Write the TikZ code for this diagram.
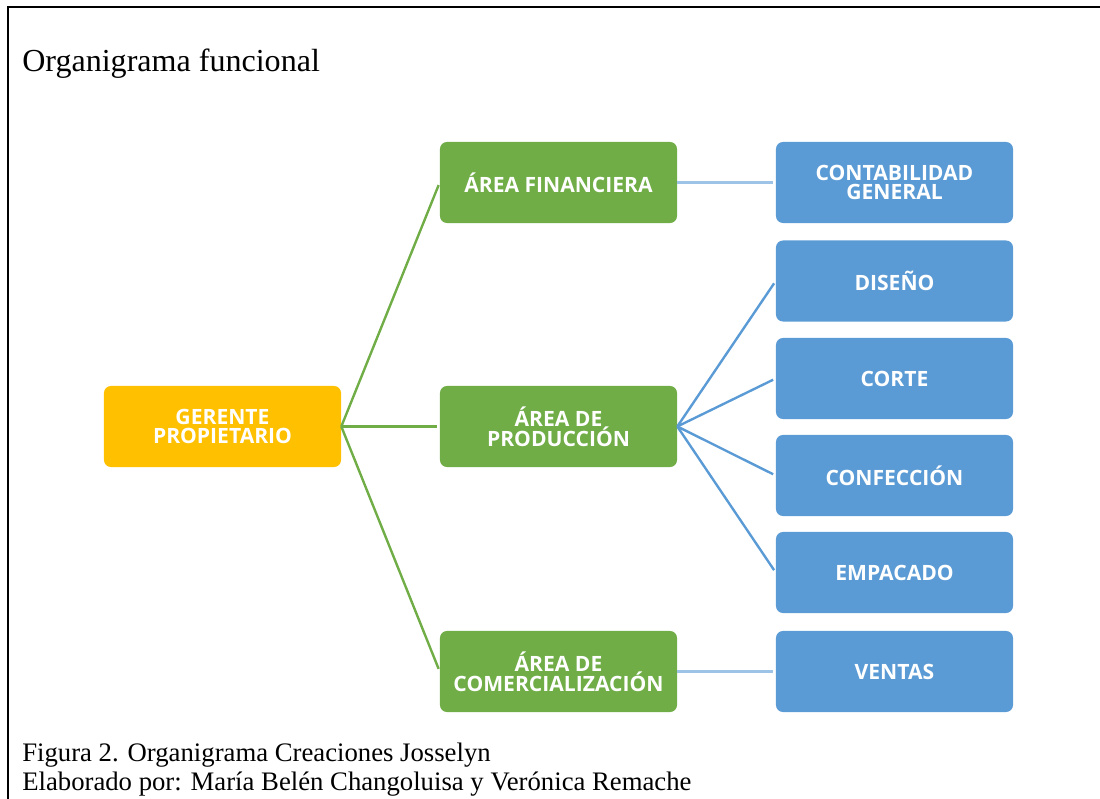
\documentclass[tikz,border=0pt]{standalone}
\usepackage{fontspec}
\setmainfont{Liberation Serif}
\newfontfamily\boxfont{Open Sans}
\usepackage{tikz}

\definecolor{oro}{HTML}{FFC000}
\definecolor{verde}{HTML}{70AD47}
\definecolor{azul}{HTML}{5B9BD5}
\definecolor{azulclaro}{HTML}{9DC3E6}

\tikzset{
  caja/.style={rounded corners=5pt,minimum width=5.925cm,minimum height=2.025cm,
    align=center,text=white,font=\boxfont\bfseries\fontsize{15}{14}\selectfont,inner sep=0pt},
  gerbox/.style={caja,fill=oro},
  areabox/.style={caja,fill=verde},
  subbox/.style={caja,fill=azul},
  lin/.style={line width=1.7pt,shorten >=2pt},
  texto/.style={anchor=base west,inner sep=0pt}
}

\begin{document}
\begin{tikzpicture}
  [x=0.025cm,y=-0.025cm]
  \useasboundingbox (0,0) rectangle (1100,799);
  \draw[line width=1.4pt] (8,799) -- (8,7) -- (1100,7);

  \node[texto,font=\fontsize{22.8}{26}\selectfont] (tit) at (22,72) {Organigrama funcional};

  \node[gerbox]  (n1) at (222.5,426.5) {GERENTE\\PROPIETARIO};
  \node[areabox] (n2) at (558.5,182.5) {ÁREA FINANCIERA};
  \node[areabox] (n3) at (558.5,426.5) {ÁREA DE\\PRODUCCIÓN};
  \node[areabox] (n4) at (558.5,671.5) {ÁREA DE\\COMERCIALIZACIÓN};
  \node[subbox]  (n5) at (894.5,182.5) {CONTABILIDAD\\GENERAL};
  \node[subbox]  (n6) at (894.5,281) {DISEÑO};
  \node[subbox]  (n7) at (894.5,378.5) {CORTE};
  \node[subbox]  (n8) at (894.5,475.5) {CONFECCIÓN};
  \node[subbox]  (n9) at (894.5,572.5) {EMPACADO};
  \node[subbox]  (n10) at (894.5,671.5) {VENTAS};

  \foreach \to in {n2,n3,n4}
    \draw[lin,verde] (n1.east) -- (\to.west);
  \foreach \to in {n6,n7,n8,n9}
    \draw[lin,azul] (n3.east) -- (\to.west);
  \foreach \from/\to in {n2/n5,n4/n10}
    \draw[lin,azulclaro] (\from.east) -- (\to.west);

  \node[texto,font=\fontsize{19}{25}\selectfont] (pie1) at (22,762) {Figura 2. Organigrama Creaciones Josselyn};
  \node[texto,font=\fontsize{19}{25}\selectfont] (pie2) at (22,791) {Elaborado por: María Belén Changoluisa y Verónica Remache};
\end{tikzpicture}
\end{document}
